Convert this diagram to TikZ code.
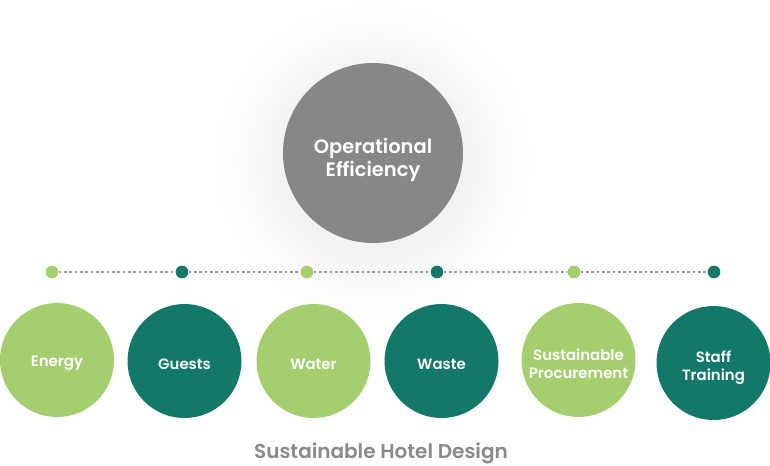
\documentclass[tikz,border=0pt]{standalone}
\usepackage{fontspec}
\setmainfont{Poppins}[BoldFont={Poppins SemiBold}]
\definecolor{lgreen}{HTML}{A5CF6E}
\definecolor{dteal}{HTML}{11786A}
\definecolor{topgray}{HTML}{878787}
\definecolor{txtgray}{HTML}{8A8A8A}
\definecolor{dotline}{HTML}{999999}
\pgfdeclareradialshading{glow}{\pgfpoint{0bp}{0bp}}{color(0bp)=(black!6); color(13.5bp)=(black!5); color(16.7bp)=(black!3); color(21bp)=(black!1); color(25bp)=(white); color(50bp)=(white)}
\begin{document}
\begin{tikzpicture}[x=0.75pt,y=-0.75pt,
  bigc/.style={circle,fill=topgray,minimum size=135pt,inner sep=0pt},
  bigtext/.style={text=white,align=center,inner sep=0pt,font=\bfseries\fontsize{14.6}{17.6}\selectfont},
  lc/.style={circle,fill=lgreen,minimum size=85.5pt,inner sep=0pt},
  dc/.style={lc,fill=dteal},
  ctext/.style={text=white,align=center,inner sep=0pt,font=\bfseries\fontsize{11.2}{13.6}\selectfont},
  ldot/.style={circle,fill=lgreen,minimum size=9.5pt,inner sep=0pt},
  ddot/.style={ldot,fill=dteal},
  dotted line/.style={draw=dotline,line width=2pt,dash pattern=on 2pt off 2pt}
]
\useasboundingbox[fill=white] (0,0) rectangle (770,465);
\shade[shading=glow] (373,161) circle[radius=124pt];
\node[bigc] (op) at (373,153) {};
\node[bigtext] (optext) at ([yshift=-5.3pt]op.center) {Operational\\Efficiency};
\node[ldot] (d1) at (52,272) {};
\node[ddot] (d2) at (182,272) {};
\node[ldot] (d3) at (307,272) {};
\node[ddot] (d4) at (437,272) {};
\node[ldot] (d5) at (574,272) {};
\node[ddot] (d6) at (714,272) {};
\draw[dotted line] (d1) -- (d2);
\draw[dotted line] (d2) -- (d3);
\draw[dotted line] (d3) -- (d4);
\draw[dotted line] (d4) -- (d5);
\draw[dotted line] (d5) -- (d6);
\node[lc] (energy) at (57,360) {};
\node[dc] (guests) at (184.5,361) {};
\node[lc] (water) at (313.5,361) {};
\node[dc] (waste) at (441.5,361) {};
\node[lc] (proc) at (578.5,360) {};
\node[dc] (staff) at (713.5,363) {};
\node[ctext] (t1) at ([yshift=-2.2pt]energy.center) {Energy};
\node[ctext] (t2) at ([yshift=-2.2pt]guests.center) {Guests};
\node[ctext] (t3) at ([yshift=-2.2pt]water.center) {Water};
\node[ctext] (t4) at ([yshift=-2.2pt]waste.center) {Waste};
\node[ctext] (t5) at ([yshift=-3pt]proc.center) {Sustainable\\Procurement};
\node[ctext] (t6) at ([yshift=-3.6pt]staff.center) {Staff\\Training};
\node[text=txtgray,font=\bfseries\fontsize{15}{17}\selectfont] (title) at (381,453.5) {Sustainable Hotel Design};
\end{tikzpicture}
\end{document}
